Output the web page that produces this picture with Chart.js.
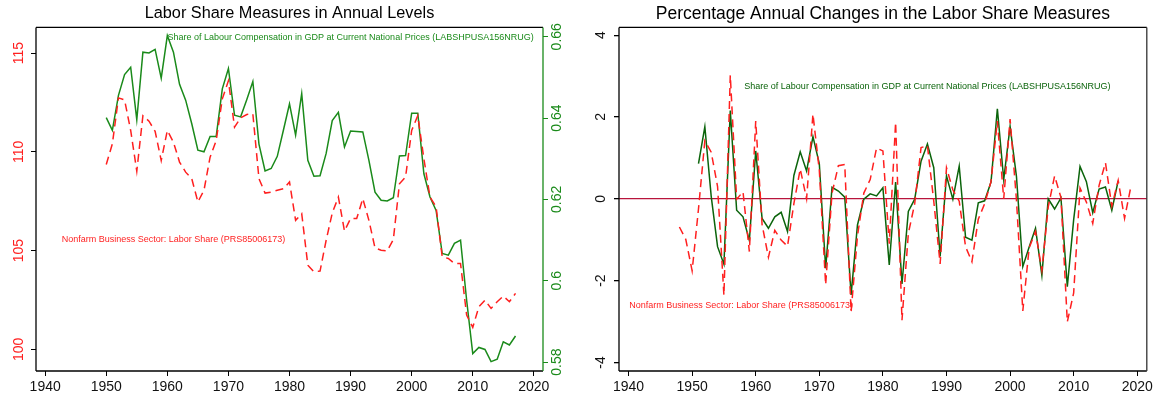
<!DOCTYPE html>
<html>
<head>
<meta charset="utf-8">
<title>Labor share measures</title>
<script src="https://cdn.jsdelivr.net/npm/chart.js@4.4.1/dist/chart.umd.min.js"></script>
<style>
    html, body { margin: 0; padding: 0; background: #fff; }
    #wrap { position: relative; width: 1156px; height: 399px; }
    #levelChart { position: absolute; left: 0; top: 0; }
    #changeChart { position: absolute; left: 580px; top: 0; }
</style>
</head>
<body>
<div id="wrap">
    <canvas id="levelChart" width="580" height="399"></canvas>
    <canvas id="changeChart" width="576" height="399"></canvas>
</div>
<script>
// Annual levels, 1950-2017
const levelYears = [1950, 1951, 1952, 1953, 1954, 1955, 1956, 1957, 1958, 1959,
    1960, 1961, 1962, 1963, 1964, 1965, 1966, 1967, 1968, 1969,
    1970, 1971, 1972, 1973, 1974, 1975, 1976, 1977, 1978, 1979,
    1980, 1981, 1982, 1983, 1984, 1985, 1986, 1987, 1988, 1989,
    1990, 1991, 1992, 1993, 1994, 1995, 1996, 1997, 1998, 1999,
    2000, 2001, 2002, 2003, 2004, 2005, 2006, 2007, 2008, 2009,
    2010, 2011, 2012, 2013, 2014, 2015, 2016, 2017];

// Nonfarm Business Sector: Labor Share (PRS85006173), index
const nonfarmLevels = [109.36, 110.40, 112.73, 112.63, 111.08, 109.02, 111.83, 111.55, 111.04, 109.56,
    111.08, 110.49, 109.48, 108.97, 108.64, 107.46, 108.05, 109.73, 110.57, 112.68,
    113.60, 111.25, 111.72, 111.89, 111.92, 108.64, 107.91, 107.96, 108.05, 108.13,
    108.47, 106.53, 106.87, 104.26, 103.92, 103.96, 105.52, 106.90, 107.71, 105.99,
    106.62, 106.62, 107.63, 106.53, 105.13, 105.02, 104.98, 105.56, 108.38, 108.72,
    111.08, 111.83, 109.65, 107.71, 107.21, 104.68, 104.60, 104.34, 104.34, 101.73,
    101.11, 102.15, 102.49, 102.07, 102.41, 102.69, 102.41, 102.83];

// Share of Labour Compensation in GDP (LABSHPUSA156NRUG)
const labourLevels = [0.6401, 0.6370, 0.6456, 0.6507, 0.6525, 0.6396, 0.6562, 0.6560, 0.6569, 0.6498,
    0.6603, 0.6562, 0.6483, 0.6444, 0.6386, 0.6321, 0.6317, 0.6355, 0.6355, 0.6472,
    0.6522, 0.6407, 0.6403, 0.6445, 0.6490, 0.6336, 0.6270, 0.6276, 0.6306, 0.6370,
    0.6435, 0.6358, 0.6460, 0.6296, 0.6257, 0.6258, 0.6313, 0.6394, 0.6414, 0.6329,
    0.6368, 0.6367, 0.6366, 0.6296, 0.6218, 0.6198, 0.6196, 0.6204, 0.6307, 0.6308,
    0.6412, 0.6412, 0.6263, 0.6206, 0.6173, 0.6067, 0.6063, 0.6092, 0.6100, 0.5952,
    0.5821, 0.5836, 0.5831, 0.5801, 0.5807, 0.5850, 0.5842, 0.5864];

// Percentage annual changes
const nonfarmChangeYears = [1948, 1949, 1950, 1951, 1952, 1953, 1954, 1955, 1956, 1957, 1958, 1959,
    1960, 1961, 1962, 1963, 1964, 1965, 1966, 1967, 1968, 1969,
    1970, 1971, 1972, 1973, 1974, 1975, 1976, 1977, 1978, 1979,
    1980, 1981, 1982, 1983, 1984, 1985, 1986, 1987, 1988, 1989,
    1990, 1991, 1992, 1993, 1994, 1995, 1996, 1997, 1998, 1999,
    2000, 2001, 2002, 2003, 2004, 2005, 2006, 2007, 2008, 2009,
    2010, 2011, 2012, 2013, 2014, 2015, 2016, 2017, 2018, 2019];
const nonfarmChanges = [-0.69, -0.99, -1.76, -0.25, 1.42, 1.14, 0.30, -2.36, 3.02, -0.01, 0.17, -1.29,
    1.90, -0.63, -1.43, -0.77, -1.01, -1.16, -0.12, 0.73, 0.00, 2.07,
    0.70, -2.10, 0.14, 0.81, 0.84, -2.76, -0.91, 0.14, 0.47, 1.24,
    1.17, -1.10, 1.87, -2.97, -0.85, -0.12, 1.25, 1.30, -0.06, -1.59,
    0.76, 0.22, -0.06, -1.17, -1.54, -0.50, -0.12, 0.42, 1.90, 0.00,
    1.95, -0.02, -2.74, -1.20, -0.80, -1.75, -0.20, 0.56, 0.03, -3.01,
    -2.30, 0.26, -0.08, -0.60, 0.33, 0.88, -0.18, 0.45, -0.48, 0.30];

const labourChangeYears = [1951, 1952, 1953, 1954, 1955, 1956, 1957, 1958, 1959,
    1960, 1961, 1962, 1963, 1964, 1965, 1966, 1967, 1968, 1969,
    1970, 1971, 1972, 1973, 1974, 1975, 1976, 1977, 1978, 1979,
    1980, 1981, 1982, 1983, 1984, 1985, 1986, 1987, 1988, 1989,
    1990, 1991, 1992, 1993, 1994, 1995, 1996, 1997, 1998, 1999,
    2000, 2001, 2002, 2003, 2004, 2005, 2006, 2007, 2008, 2009,
    2010, 2011, 2012, 2013, 2014, 2015, 2016, 2017];
const labourChanges = [0.86, 1.76, 0.06, -1.17, -1.60, 2.16, -0.28, -0.44, -1.02,
    1.17, -0.48, -0.72, -0.44, -0.33, -0.80, 0.57, 1.15, 0.68, 1.52,
    0.86, -1.70, 0.28, 0.19, 0.04, -2.35, -0.64, -0.01, 0.12, 0.07,
    0.27, -1.62, 0.41, -2.08, -0.31, -0.01, 0.92, 1.34, 0.76, -1.41,
    0.56, -0.01, 0.80, -0.94, -1.01, -0.10, -0.05, 0.41, 2.20, 0.47,
    1.77, 0.55, -1.66, -1.18, -0.72, -1.87, 0.00, -0.25, 0.02, -2.15,
    -0.51, 0.79, 0.42, -0.34, 0.24, 0.29, -0.28, 0.44];

// Axis ticks
const yearTicks = [1940, 1950, 1960, 1970, 1980, 1990, 2000, 2010, 2020];
const nonfarmTicks = [100, 105, 110, 115];
const labourTicks = [0.58, 0.6, 0.62, 0.64, 0.66];
const changeTicks = [-4, -2, 0, 2, 4];

const FONT = "'Liberation Sans', Arial, Helvetica, sans-serif";
const RED = "#ff1f1f";
const GREEN = "#1a8a1a";
const DARK_GREEN = "#0b640b";
const ZERO_LINE = "#b8143c";

function toPoints(xs, ys) {
    return xs.map((x, i) => ({ x: x, y: ys[i] }));
}

function fixedTicks(values) {
    return function (scale) {
        scale.ticks = values.map(v => ({ value: v }));
    };
}

// box round the plot area, one colour per side
function framePlugin(sides) {
    return {
        id: "frame",
        afterDatasetsDraw(chart) {
            const { ctx, chartArea: a } = chart;
            const edges = {
                top: [a.left, a.top, a.right, a.top],
                bottom: [a.left, a.bottom, a.right, a.bottom],
                left: [a.left, a.top, a.left, a.bottom],
                right: [a.right, a.top, a.right, a.bottom]
            };
            ctx.save();
            ctx.lineWidth = 1.3;
            Object.keys(sides).forEach(side => {
                const e = edges[side];
                ctx.strokeStyle = sides[side];
                ctx.beginPath();
                ctx.moveTo(e[0], e[1]);
                ctx.lineTo(e[2], e[3]);
                ctx.stroke();
            });
            ctx.restore();
        }
    };
}

// series names written inside the plot, placed in data units
function seriesLabelPlugin(items) {
    return {
        id: "seriesLabels",
        afterDatasetsDraw(chart) {
            const ctx = chart.ctx;
            ctx.save();
            ctx.font = "9px " + FONT;
            ctx.textAlign = "center";
            ctx.textBaseline = "middle";
            items.forEach(item => {
                const x = chart.scales.x.getPixelForValue(item.x);
                const y = chart.scales[item.axis].getPixelForValue(item.y);
                ctx.fillStyle = item.color;
                ctx.fillText(item.text, x, y);
            });
            ctx.restore();
        }
    };
}

function yearAxis() {
    return {
        type: "linear",
        min: 1938.5,
        max: 2021.5,
        afterBuildTicks: fixedTicks(yearTicks),
        afterFit(scale) { scale.height = 28; },
        border: { display: false },
        grid: { drawOnChartArea: false, drawTicks: true, tickLength: 5, color: "#000" },
        ticks: {
            font: { family: FONT, size: 14 },
            color: "#111",
            padding: 3,
            maxRotation: 0,
            callback: v => String(v)
        }
    };
}

function sideAxis(opts) {
    return {
        type: "linear",
        position: opts.position,
        min: opts.min,
        max: opts.max,
        afterBuildTicks: fixedTicks(opts.ticks),
        afterFit(scale) { scale.width = opts.width; },
        border: { display: false },
        grid: opts.grid || { drawOnChartArea: false, drawTicks: true, tickLength: 5, color: opts.tickColor },
        ticks: {
            font: { family: FONT, size: 14 },
            color: opts.color,
            minRotation: 90,
            maxRotation: 90,
            crossAlign: "center",
            padding: opts.padding,
            callback: v => String(v)
        }
    };
}

function titleOptions(text, size) {
    const pad = (27.4 - size * 1.2) / 2;
    return {
        display: true,
        text: text,
        color: "#000",
        fullSize: false,
        font: { family: FONT, size: size, weight: "normal" },
        padding: { top: pad, bottom: pad }
    };
}

// Left panel: levels on two axes
new Chart(document.getElementById("levelChart"), {
    type: "line",
    data: {
        datasets: [
            {
                label: "Nonfarm Business Sector: Labor Share (PRS85006173)",
                data: toPoints(levelYears, nonfarmLevels),
                yAxisID: "y",
                borderColor: RED,
                borderWidth: 1.5,
                borderDash: [8, 5],
                pointRadius: 0,
                tension: 0
            },
            {
                label: "Share of Labour Compensation in GDP at Current National Prices (LABSHPUSA156NRUG)",
                data: toPoints(levelYears, labourLevels),
                yAxisID: "y1",
                borderColor: GREEN,
                borderWidth: 1.5,
                pointRadius: 0,
                tension: 0
            }
        ]
    },
    options: {
        responsive: false,
        animation: false,
        layout: { padding: { left: 0, right: 0, top: 0, bottom: 0 } },
        plugins: {
            legend: { display: false },
            tooltip: { enabled: false },
            title: titleOptions("Labor Share Measures in Annual Levels", 16.3)
        },
        scales: {
            x: yearAxis(),
            y: sideAxis({ position: "left", min: 98.9, max: 116.3, ticks: nonfarmTicks,
                width: 36, color: RED, tickColor: "#000", padding: 0 }),
            y1: sideAxis({ position: "right", min: 0.5778, max: 0.6623, ticks: labourTicks,
                width: 37, color: GREEN, tickColor: GREEN, padding: -4 })
        }
    },
    plugins: [
        framePlugin({ top: "#000", left: "#000", bottom: "#000", right: GREEN }),
        seriesLabelPlugin([
            { text: "Share of Labour Compensation in GDP at Current National Prices (LABSHPUSA156NRUG)",
              x: 1990, y: 0.6599, axis: "y1", color: GREEN },
            { text: "Nonfarm Business Sector: Labor Share (PRS85006173)",
              x: 1961, y: 105.55, axis: "y", color: RED }
        ])
    ]
});

// Right panel: percentage annual changes
new Chart(document.getElementById("changeChart"), {
    type: "line",
    data: {
        datasets: [
            {
                label: "Nonfarm Business Sector: Labor Share (PRS85006173)",
                data: toPoints(nonfarmChangeYears, nonfarmChanges),
                borderColor: RED,
                borderWidth: 1.5,
                borderDash: [8, 5],
                pointRadius: 0,
                tension: 0
            },
            {
                label: "Share of Labour Compensation in GDP at Current National Prices (LABSHPUSA156NRUG)",
                data: toPoints(labourChangeYears, labourChanges),
                borderColor: DARK_GREEN,
                borderWidth: 1.5,
                pointRadius: 0,
                tension: 0
            }
        ]
    },
    options: {
        responsive: false,
        animation: false,
        layout: { padding: { left: 0, right: 5, top: 0, bottom: 0 } },
        plugins: {
            legend: { display: false },
            tooltip: { enabled: false },
            title: titleOptions("Percentage Annual Changes in the Labor Share Measures", 17.5)
        },
        scales: {
            x: yearAxis(),
            y: sideAxis({ position: "left", min: -4.21, max: 4.19, ticks: changeTicks,
                width: 39, color: "#111", padding: 7,
                grid: {
                    drawOnChartArea: true,
                    drawTicks: true,
                    tickLength: 5,
                    lineWidth: 1.3,
                    tickColor: "#000",
                    color: c => (c.tick && c.tick.value === 0 ? ZERO_LINE : "rgba(0,0,0,0)")
                } })
        }
    },
    plugins: [
        framePlugin({ top: "#000", left: "#000", bottom: "#000", right: "#333" }),
        seriesLabelPlugin([
            { text: "Share of Labour Compensation in GDP at Current National Prices (LABSHPUSA156NRUG)",
              x: 1987, y: 2.75, axis: "y", color: DARK_GREEN },
            { text: "Nonfarm Business Sector: Labor Share (PRS85006173)",
              x: 1957.7, y: -2.6, axis: "y", color: RED }
        ])
    ]
});
</script>
</body>
</html>
